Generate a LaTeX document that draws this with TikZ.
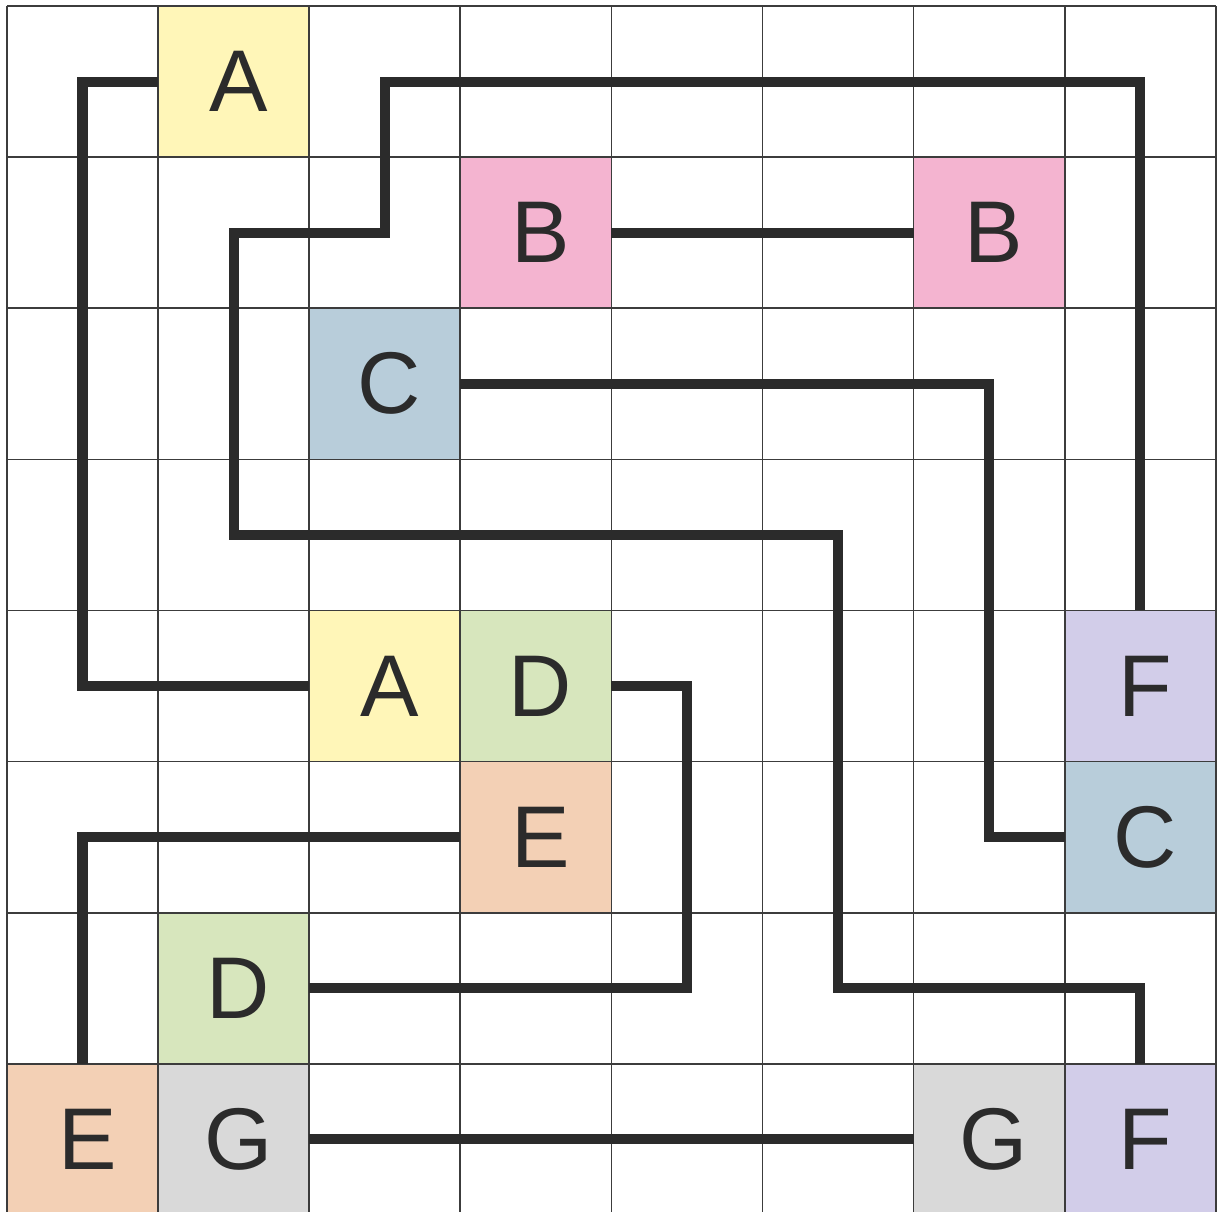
\documentclass[tikz,border=0pt]{standalone}
\usepackage{fontspec}
\setmainfont{Liberation Sans}
\usepackage{tikz}
\usetikzlibrary{
arrows.meta,
positioning,
calc
}
\definecolor{flowyellow}{HTML}{FFF6B8}
\definecolor{flowpink}{HTML}{F4B4D0}
\definecolor{flowblue}{HTML}{B8CDDA}
\definecolor{flowgreen}{HTML}{D7E6BD}
\definecolor{flowpeach}{HTML}{F3D0B5}
\definecolor{flowlilac}{HTML}{D2CDE9}
\definecolor{flowgray}{HTML}{D9D9D9}
\definecolor{flowink}{HTML}{2B2B2B}
\definecolor{flowgrid}{HTML}{3C3C3C}

\begin{document}
\begin{tikzpicture}[
  x=1cm, y=1cm,
  cell/.style={minimum size=1cm, inner sep=0pt, outer sep=0pt, text=flowink,
    font=\fontsize{16.5}{18}\selectfont, execute at begin node=\hspace{1.8pt}},
  wire/.style={line width=1.9pt, flowink},
  gridline/.style={line width=0.3pt, flowgrid}
]
\useasboundingbox (-0.046, 0.040) rectangle (8.008, -7.98);

% Endpoint cells
\node[cell, fill=flowyellow] (a1) at (1.5, -0.5) {A};
\node[cell, fill=flowyellow] (a2) at (2.5, -4.5) {A};
\node[cell, fill=flowpink] (b1) at (3.5, -1.5) {B};
\node[cell, fill=flowpink] (b2) at (6.5, -1.5) {B};
\node[cell, fill=flowblue] (c1) at (2.5, -2.5) {C};
\node[cell, fill=flowblue] (c2) at (7.5, -5.5) {C};
\node[cell, fill=flowgreen] (d1) at (3.5, -4.5) {D};
\node[cell, fill=flowgreen] (d2) at (1.5, -6.5) {D};
\node[cell, fill=flowpeach] (e1) at (3.5, -5.5) {E};
\node[cell, fill=flowpeach] (e2) at (0.5, -7.5) {E};
\node[cell, fill=flowlilac] (f1) at (7.5, -4.5) {F};
\node[cell, fill=flowlilac] (f2) at (7.5, -7.5) {F};
\node[cell, fill=flowgray] (g1) at (1.5, -7.5) {G};
\node[cell, fill=flowgray] (g2) at (6.5, -7.5) {G};

% Grid
\draw[gridline] (0, 0) grid (8, -8);

% Paths
\draw[wire] (a1.west) -- ++(-0.5, 0) |- (a2.west);
\draw[wire] (b1.east) -- (b2.west);
\draw[wire] (c1.east) -- ++(3.5, 0) |- (c2.west);
\draw[wire] (d1.east) -- ++(0.5, 0) |- (d2.east);
\draw[wire] (e1.west) -| (e2.north);
\draw[wire] (f1.north) |- ++(-5, 3.5) |- ++(-1, -1) |- ++(4, -2) |- ++(2, -3) -- (f2.north);
\draw[wire] (g1.east) -- (g2.west);

\end{tikzpicture}
\end{document}
